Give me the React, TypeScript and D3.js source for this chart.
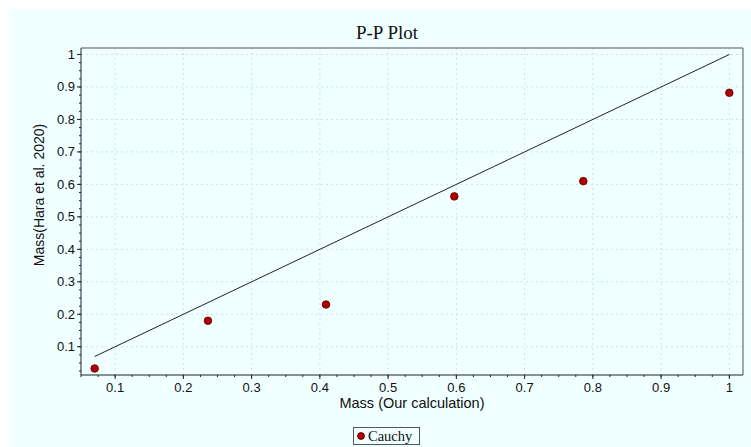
import React from "react";
import * as d3 from "d3";

// Cauchy P-P points: x = our calculation, y = Hara et al. 2020
const xValues = [0.07, 0.236, 0.409, 0.597, 0.786, 1.0];
const yValues = [0.033, 0.18, 0.23, 0.563, 0.61, 0.882];
const xTicks = [0.1, 0.2, 0.3, 0.4, 0.5, 0.6, 0.7, 0.8, 0.9, 1];
const yTicks = [0.1, 0.2, 0.3, 0.4, 0.5, 0.6, 0.7, 0.8, 0.9, 1];
const refLine = [0.07, 1.0];
const seriesName = "Cauchy";

const W = 751;
const H = 447;
const plot = { left: 81, right: 743, top: 48, bottom: 375 };

export default function App() {
  const x = d3.scaleLinear().domain([0.05, 1.02]).range([plot.left, plot.right]);
  const y = d3.scaleLinear().domain([0.013, 1.02]).range([plot.bottom, plot.top]);

  const minorX = d3.range(0.05, 1.02, 0.025);
  const minorY = d3.range(0.025, 1.02, 0.025);

  const sans = "'Liberation Sans', Arial, sans-serif";
  const serif = "'Liberation Serif', 'Times New Roman', serif";

  const linePath = d3
    .line<number>()
    .x((d) => x(d))
    .y((d) => y(d))(refLine);

  return (
    <svg
      width={W}
      height={H}
      style={{ position: "absolute", left: 0, top: 0 }}
    >
      <rect x={0} y={0} width={W} height={H} fill="#ffffff" />
      <rect x={8} y={9} width={W - 8} height={H - 9} fill="#f0ffff" />

      <text x={387} y={39} textAnchor="middle" fontFamily={serif} fontSize={19} fill="#111">
        P-P Plot
      </text>

      {/* grid */}
      <g stroke="#d0def2" strokeWidth={1} strokeDasharray="2,3">
        {xTicks.map((t) => (
          <line key={"gx" + t} x1={x(t)} x2={x(t)} y1={plot.top} y2={plot.bottom} />
        ))}
        {yTicks.map((t) => (
          <line key={"gy" + t} x1={plot.left} x2={plot.right} y1={y(t)} y2={y(t)} />
        ))}
      </g>

      {/* frame */}
      <line x1={plot.left} x2={plot.right} y1={plot.top} y2={plot.top} stroke="#555" />
      <line x1={plot.right} x2={plot.right} y1={plot.top} y2={plot.bottom} stroke="#555" />
      <line x1={plot.left} x2={plot.left} y1={plot.top} y2={plot.bottom} stroke="#222" />
      <line x1={plot.left} x2={plot.right} y1={plot.bottom} y2={plot.bottom} stroke="#222" />

      {/* ticks */}
      <g stroke="#222">
        {minorX.map((t, i) => (
          <line key={"mx" + i} x1={x(t)} x2={x(t)} y1={plot.bottom} y2={plot.bottom + 2} />
        ))}
        {xTicks.map((t) => (
          <line key={"tx" + t} x1={x(t)} x2={x(t)} y1={plot.bottom} y2={plot.bottom + 4} />
        ))}
        {minorY.map((t, i) => (
          <line key={"my" + i} x1={plot.left - 2} x2={plot.left} y1={y(t)} y2={y(t)} />
        ))}
        {yTicks.map((t) => (
          <line key={"ty" + t} x1={plot.left - 4} x2={plot.left} y1={y(t)} y2={y(t)} />
        ))}
      </g>

      <g fontFamily={sans} fontSize={13} fill="#111">
        {xTicks.map((t) => (
          <text key={"lx" + t} x={x(t)} y={392} textAnchor="middle">
            {d3.format("~g")(t)}
          </text>
        ))}
        {yTicks.map((t) => (
          <text key={"ly" + t} x={75} y={y(t) + 4.5} textAnchor="end">
            {d3.format("~g")(t)}
          </text>
        ))}
      </g>

      <text x={412} y={408} textAnchor="middle" fontFamily={sans} fontSize={14.5} fill="#111">
        Mass (Our calculation)
      </text>
      <text
        transform="translate(44,195) rotate(-90)"
        textAnchor="middle"
        fontFamily={sans}
        fontSize={14}
        fill="#111"
      >
        Mass(Hara et al. 2020)
      </text>

      <path d={linePath ?? ""} fill="none" stroke="#222" strokeWidth={1} />

      {xValues.map((v, i) => (
        <circle
          key={"p" + i}
          cx={x(v)}
          cy={y(yValues[i])}
          r={3.8}
          fill="#b00000"
          stroke="#5a0000"
          strokeWidth={0.8}
        />
      ))}

      {/* legend */}
      <rect x={353.5} y={427.5} width={66} height={17} fill="#f0ffff" stroke="#555" />
      <circle cx={361} cy={436} r={3.5} fill="#b00000" stroke="#5a0000" strokeWidth={0.8} />
      <text x={368} y={441} fontFamily={serif} fontSize={14.5} fill="#111">
        {seriesName}
      </text>
    </svg>
  );
}
